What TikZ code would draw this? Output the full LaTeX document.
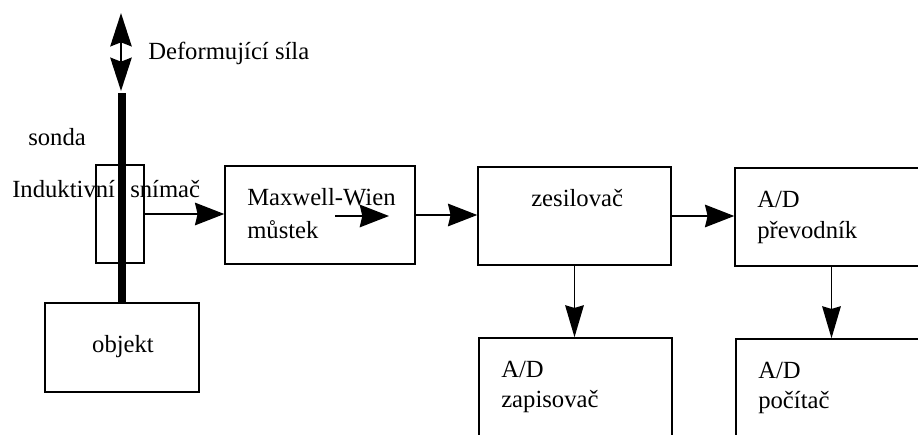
\documentclass[tikz,border=0pt]{standalone}
\usepackage{fontspec}
\setmainfont{Liberation Serif}
\usetikzlibrary{arrows.meta}
\begin{document}
\begin{tikzpicture}[x=0.75pt,y=-0.75pt,
  box/.style={draw,line width=1.1pt,inner sep=0pt,minimum height=73.5pt},
  lbl/.style={inner sep=0pt,anchor=base west,font=\fontsize{18.5}{22}\selectfont},
  conn/.style={line width=1.1pt,-{Stealth[length=22pt,width=17pt,inset=2pt]}},
  vconn/.style={line width=1.1pt,-{Stealth[length=24pt,width=14pt,inset=2pt]}},
  forcearrow/.style={line width=2pt,{Stealth[length=25pt,width=16pt,inset=3pt]}-{Stealth[length=25pt,width=16pt,inset=3pt]}}]
\useasboundingbox (0,0) rectangle (918,435);
\clip (0,0) rectangle (918,435);
% boxes
\node[box,minimum width=36pt] (sensor) at (120,214) {};
\node[box,minimum width=142.5pt] (maxwell) at (320,215) {};
\node[box,minimum width=144.75pt] (zes) at (574.5,216) {};
\node[box,minimum width=144.75pt] (prevod) at (831.5,217) {};
\node[box,minimum width=144.75pt] (zapis) at (575.5,387) {};
\node[box,minimum width=144.75pt] (pocitac) at (832.5,388) {};
\node[box,minimum width=115.5pt,minimum height=66.75pt] (objekt) at (122,347.5) {};
% probe bar and force arrow
\coordinate (bartop) at (121,93);
\draw[line width=5.5pt] (objekt.north) -- (objekt.north |- bartop);
\coordinate (forcetop) at (121,13);
\coordinate (forcebot) at (121,91);
\draw[forcearrow] (forcetop) -- (forcebot);
% connectors
\draw[conn] (sensor.east) -- (sensor.east -| maxwell.west);
\draw[conn] (maxwell.east) -- (maxwell.east -| zes.west);
\draw[conn] (zes.east) -- (zes.east -| prevod.west);
\draw[vconn] (zes.south) -- (zes.south |- zapis.north);
\draw[vconn] (prevod.south) -- (prevod.south |- pocitac.north);
\coordinate (inA) at (335,216);
\coordinate (inB) at (389,216);
\draw[conn] (inA) -- (inB);
% texts
\node[lbl] (tforce) at (148,60) {Deformující síla};
\node[lbl] (tsonda) at (28,146) {sonda};
\node[lbl] (tind) at (12,197) {Induktivní};
\node[lbl] (tsnim) at (130,197) {snímač};
\node[lbl] (tmw) at (247,205) {Maxwell-Wien};
\node[lbl] (tmus) at (247,238) {můstek};
\node[lbl] (tzes) at (531,206) {zesilovač};
\node[lbl] (tad1) at (757,207) {A/D};
\node[lbl] (tprev) at (757,238) {převodník};
\node[lbl] (tad2) at (501,377) {A/D};
\node[lbl] (tzap) at (501,407) {zapisovač};
\node[lbl] (tad3) at (758,378) {A/D};
\node[lbl] (tpoc) at (758,408) {počítač};
\node[lbl,anchor=base] (tobj) at (123,352) {objekt};
\end{tikzpicture}
\end{document}
